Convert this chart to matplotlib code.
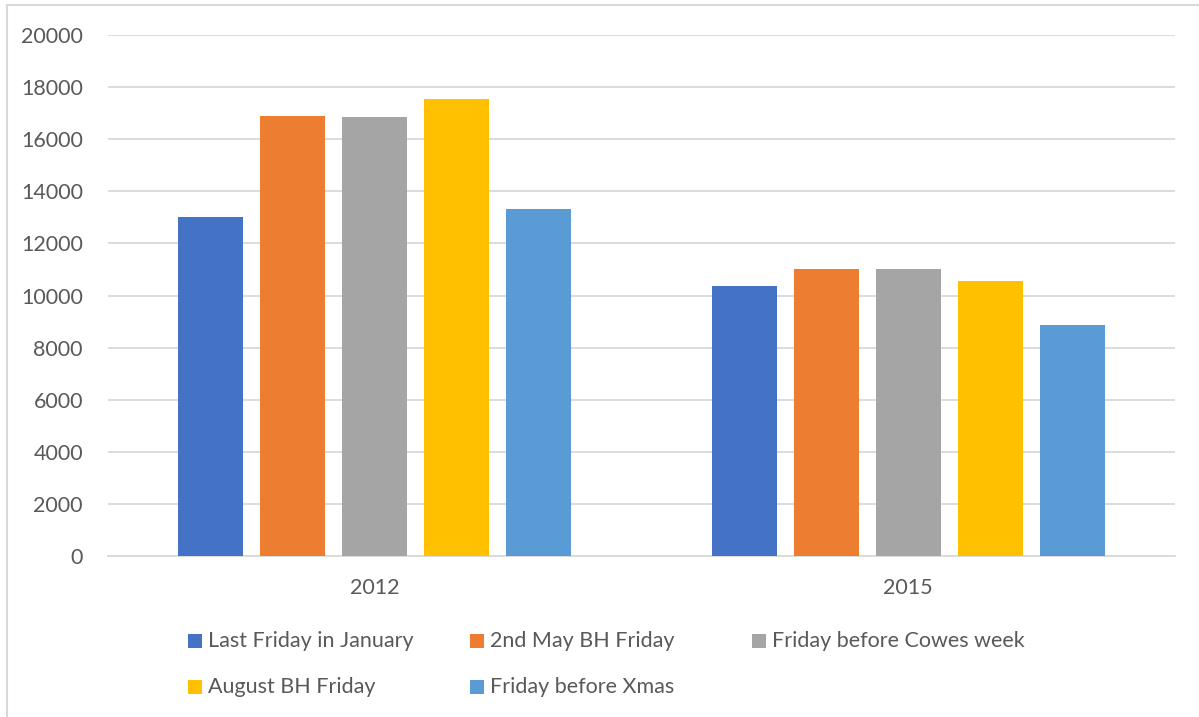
import numpy as np
import matplotlib.pyplot as plt
from matplotlib.patches import Rectangle

years = ["2012", "2015"]
series = [
    "Last Friday in January",
    "2nd May BH Friday",
    "Friday before Cowes week",
    "August BH Friday",
    "Friday before Xmas",
]
values = [
    [13000, 10350],
    [16880, 11010],
    [16870, 11000],
    [17530, 10560],
    [13320, 8880],
]
colors = ["#4472C4", "#ED7D31", "#A5A5A5", "#FFC000", "#5B9BD5"]

plt.rcParams['font.family'] = ['Lato', 'DejaVu Sans']
txt = "#595959"
grid = "#D9D9D9"
fs = 15.5

fig = plt.figure(figsize=(11.99, 7.17), dpi=100)
ax = fig.add_axes([108 / 1199, 1 - 556 / 717, 1067 / 1199, 521 / 717])

x = np.arange(len(years))
step = 0.1536
width = 0.1217
for i, (name, vals) in enumerate(zip(series, values)):
    ax.bar(x + (i - 2) * step, vals, width, color=colors[i], label=name, zorder=3)

ax.set_xlim(-0.5, 1.5)
ax.set_ylim(0, 20000)
ax.set_yticks(np.arange(0, 20001, 2000))
ax.set_xticks(x)
ax.set_xticklabels(years)
ax.yaxis.grid(True, color=grid, linewidth=1.3, zorder=0)
ax.tick_params(axis='both', length=0, labelsize=fs, labelcolor=txt)
ax.tick_params(axis='y', pad=18)
ax.tick_params(axis='x', pad=16)
for s in ["top", "right", "left"]:
    ax.spines[s].set_visible(False)
ax.spines["bottom"].set_color(grid)
ax.spines["bottom"].set_linewidth(1.3)

# legend drawn by hand to keep Excel-like equal column spacing
W, H = 1199, 717
for i, (name, c) in enumerate(zip(series, colors)):
    col, row = i % 3, i // 3
    lx = 188 + col * 282
    ly = 641 + row * 46
    fig.add_artist(Rectangle((lx / W, 1 - (ly + 7) / H), 14 / W, 14 / H,
                             transform=fig.transFigure, color=c, lw=0))
    fig.text((lx + 20) / W, 1 - ly / H, name, fontsize=fs, color=txt,
             ha="left", va="center")

# chart border
fig.add_artist(plt.Line2D([7 / W, 7 / W], [0, 1 - 5 / H], transform=fig.transFigure,
                          color=grid, lw=1.5))
fig.add_artist(plt.Line2D([7 / W, 1], [1 - 5 / H, 1 - 5 / H], transform=fig.transFigure,
                          color=grid, lw=1.5))

fig.savefig("out.png", dpi=100)
